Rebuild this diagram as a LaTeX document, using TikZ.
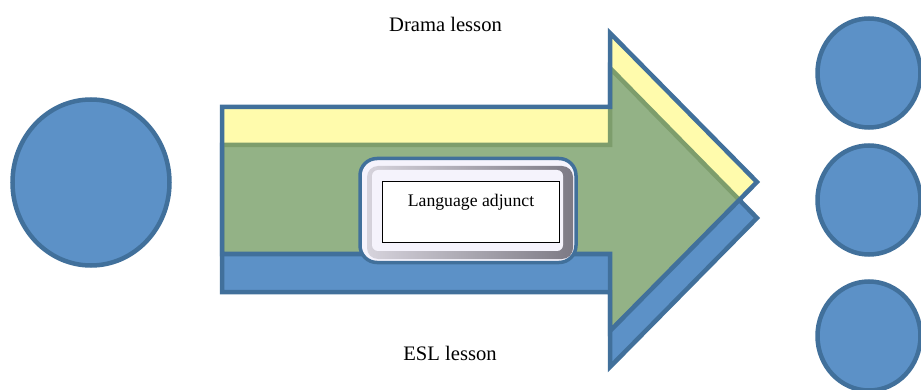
\documentclass[tikz,border=0pt]{standalone}
\usepackage{fontspec}
\setmainfont{Liberation Serif}
\usetikzlibrary{shapes.geometric}

\definecolor{blueFill}{RGB}{92,145,199}
\definecolor{blueLine}{RGB}{65,112,155}
\definecolor{yellowFill}{RGB}{255,251,172}
\definecolor{greenFill}{RGB}{147,178,134}
\definecolor{greenEdge}{RGB}{125,157,108}
\definecolor{bevelLight}{RGB}{245,243,252}
\definecolor{bevelMid}{RGB}{214,211,220}
\definecolor{bevelDark}{RGB}{125,122,133}

\begin{document}
\begin{tikzpicture}[x=1pt,y=-1pt,
  disc/.style={ellipse, draw=blueLine, fill=blueFill, line width=4.5pt, inner sep=0pt},
  lessonlabel/.style={font=\fontsize{20.6}{24}\selectfont, anchor=base, inner sep=0pt},
  arrowedge/.style={line width=4.5pt, line join=miter},
]
\useasboundingbox (0,0) rectangle (921,390);

% lower (blue) arrow
\draw[arrowedge, draw=blueLine, fill=blueFill]
  (222,145) -- (610,145) -- (610,68) -- (757,218) -- (610,367) -- (610,292) -- (222,292) -- cycle;
% upper (yellow) arrow, fill only
\fill[yellowFill]
  (222,107) -- (610,107) -- (610,33) -- (757,182) -- (610,331) -- (610,254) -- (222,254) -- cycle;
% overlap of the two arrows
\begin{scope}
  \clip (222,107) -- (610,107) -- (610,33) -- (757,182) -- (610,331) -- (610,254) -- (222,254) -- cycle;
  \draw[arrowedge, draw=greenEdge, fill=greenFill]
    (222,145) -- (610,145) -- (610,68) -- (757,218) -- (610,367) -- (610,292) -- (222,292) -- cycle;
\end{scope}
% outline of the upper arrow on top
\draw[arrowedge, draw=blueLine]
  (222,107) -- (610,107) -- (610,33) -- (757,182) -- (610,331) -- (610,254) -- (222,254) -- cycle;

% circles
\node[disc, minimum width=157pt, minimum height=166pt] (start) at (91,182.5) {};
\node[disc, minimum width=103pt, minimum height=109pt] (goalA) at (869,73) {};
\node[disc, minimum width=103pt, minimum height=109pt] (goalB) at (869,200) {};
\node[disc, minimum width=103pt, minimum height=109pt] (goalC) at (869,336) {};

% bevelled button holding the adjunct label
\node[draw=blueLine, line width=3.5pt, fill=bevelLight, rounded corners=17pt,
      minimum width=216pt, minimum height=104pt, inner sep=0pt] (bevel) at (468,210.5) {};
\shade[rounded corners=11pt, left color=bevelMid, right color=bevelDark]
  (367,166) rectangle (573,259);
\fill[bevelLight, rounded corners=6pt] (372,170) rectangle (563,251);
\node[draw=black, line width=1pt, fill=white, minimum width=177pt, minimum height=61pt,
      inner sep=0pt] (adjunctBox) at (471,212) {};
\node[font=\fontsize{17.7}{21}\selectfont, anchor=base, inner sep=0pt] (adjunct)
  at (471,206.7) {Language adjunct};

% lesson labels
\node[lessonlabel] (drama) at (445.5,31.7) {Drama lesson};
\node[lessonlabel] (esl) at (450,360.7) {ESL lesson};
\end{tikzpicture}
\end{document}
